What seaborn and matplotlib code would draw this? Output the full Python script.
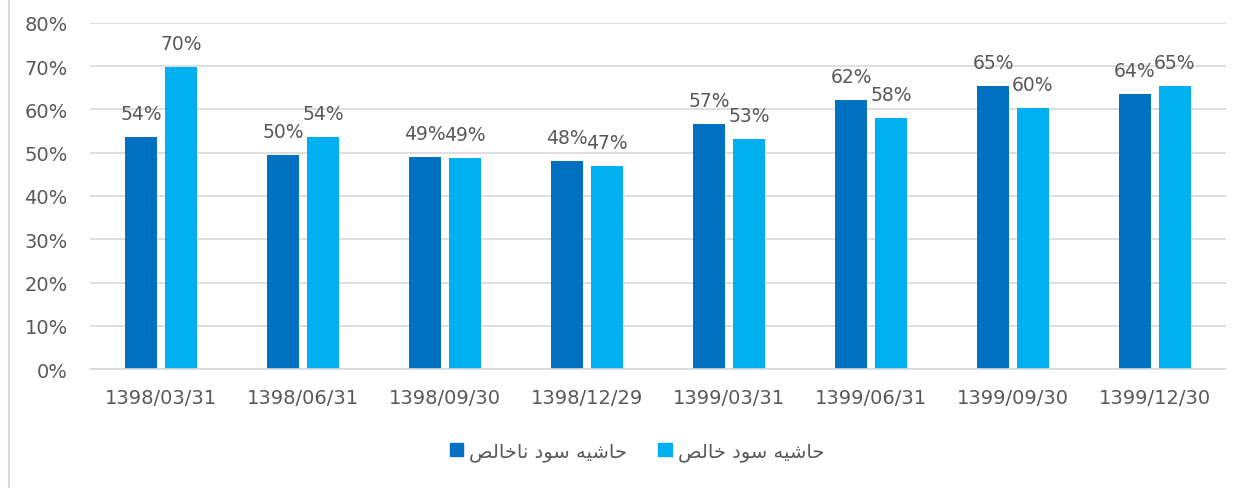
import matplotlib
matplotlib.use("Agg")
import matplotlib.pyplot as plt
from matplotlib.lines import Line2D
from matplotlib.patches import Patch
from matplotlib.ticker import PercentFormatter, MultipleLocator
import seaborn as sns
import pandas as pd

# dates (Solar Hijri quarter ends)
dates = ["1398/03/31", "1398/06/31", "1398/09/30", "1398/12/29",
         "1399/03/31", "1399/06/31", "1399/09/30", "1399/12/30"]
gross_margin = [0.537, 0.495, 0.491, 0.482, 0.566, 0.623, 0.654, 0.636]
net_margin = [0.699, 0.536, 0.489, 0.469, 0.532, 0.581, 0.604, 0.654]

# series names written in Arabic presentation forms, visual order
# (matplotlib does no shaping or bidi)
gross_name = "\uFEBA\uFEDF\uFE8E\uFEA7\uFE8E\uFEE7 \uFEA9\uFEEE\uFEB3 \uFEEA\uFEF4\uFEB7\uFE8E\uFEA3"  # حاشیه سود ناخالص
net_name = "\uFEBA\uFEDF\uFE8E\uFEA7 \uFEA9\uFEEE\uFEB3 \uFEEA\uFEF4\uFEB7\uFE8E\uFEA3"  # حاشیه سود خالص

colors = ["#0070C0", "#00B0F0"]
text_color = "#595959"
grid_color = "#D9D9D9"

df = pd.DataFrame({
    "date": dates * 2,
    "value": gross_margin + net_margin,
    "series": [gross_name] * len(dates) + [net_name] * len(dates),
})

sns.set_style("white")
plt.rcParams["font.family"] = ["DejaVu Sans"]

fig = plt.figure(figsize=(12.46, 4.89), dpi=100)
ax = fig.add_axes([90 / 1246, 1 - 370 / 489, 1136 / 1246, 346 / 489])

sns.barplot(data=df, x="date", y="value", hue="series", palette=colors,
            width=0.563, gap=0.2, ax=ax, legend=False, saturation=1,
            linewidth=0)

for cont in ax.containers:
    ax.bar_label(cont, labels=[f"{v:.0%}" for v in cont.datavalues],
                 padding=10, fontsize=13.5, color=text_color)

ax.set_ylim(0, 0.8)
ax.set_xlim(-0.5, len(dates) - 0.5)
ax.yaxis.set_major_locator(MultipleLocator(0.1))
ax.yaxis.set_major_formatter(PercentFormatter(1.0, decimals=0))
ax.grid(axis="y", color=grid_color, linewidth=1.2)
ax.set_axisbelow(True)
for s in ["top", "right", "left"]:
    ax.spines[s].set_visible(False)
ax.spines["bottom"].set_color(grid_color)
ax.spines["bottom"].set_linewidth(1.2)
ax.tick_params(axis="both", length=0, labelsize=14, labelcolor=text_color)
ax.tick_params(axis="y", pad=16)
ax.tick_params(axis="x", pad=14)
ax.set_xlabel("")
ax.set_ylabel("")

handles = [Patch(color=colors[0], label=gross_name),
           Patch(color=colors[1], label=net_name)]
leg = fig.legend(handles=handles, loc="center", ncol=2,
                 bbox_to_anchor=(637 / 1246, 1 - 452 / 489), frameon=False,
                 handlelength=0.7, handleheight=0.7, handletextpad=0.3,
                 columnspacing=1.6, fontsize=14)
for t in leg.get_texts():
    t.set_color(text_color)

# chart area border on the left edge
fig.add_artist(Line2D([9 / 1246, 9 / 1246], [0, 1], color=grid_color, linewidth=1.5))

fig.savefig("out.png", dpi=100)
